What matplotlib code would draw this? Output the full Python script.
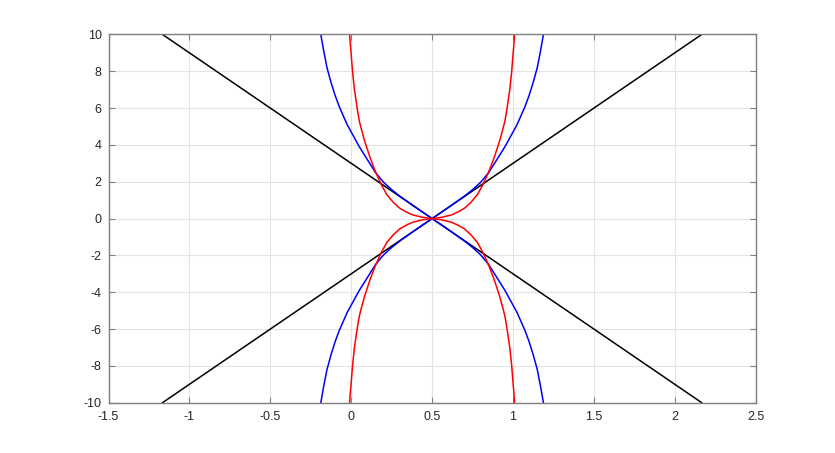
import matplotlib
matplotlib.use("Agg")
import matplotlib.pyplot as plt
import numpy as np

# black lines (end points)
black_x = [-1.1667, 2.1667]
black_y = [10, -10]

# blue curve, upper branch (V shape through 0.5,0)
blue_x = [-0.188, -0.17, -0.15, -0.125, -0.1, -0.075, -0.05, -0.025, 0.0,
          0.025, 0.05, 0.075, 0.1, 0.125, 0.15, 0.2, 0.25, 0.3, 0.4, 0.5,
          0.6, 0.7, 0.75, 0.8, 0.85, 0.875, 0.9, 0.925, 0.95, 0.975, 1.0,
          1.025, 1.05, 1.075, 1.1, 1.125, 1.15, 1.17, 1.188]
blue_y = [10.0, 9.1, 8.2, 7.4, 6.7, 6.1, 5.6, 5.1, 4.7,
          4.3, 3.9, 3.55, 3.2, 2.85, 2.5, 1.97, 1.57, 1.22, 0.6, 0.0,
          0.6, 1.22, 1.57, 1.97, 2.5, 2.85, 3.2, 3.55, 3.9, 4.3, 4.7,
          5.1, 5.6, 6.1, 6.7, 7.4, 8.2, 9.1, 10.0]

# red curve, upper branch
red_x = [-0.01, -0.005, 0.0, 0.008, 0.014, 0.02, 0.03, 0.04, 0.05, 0.06,
         0.08, 0.1, 0.115, 0.13, 0.145, 0.16, 0.175, 0.19, 0.22, 0.26,
         0.3, 0.34, 0.38, 0.44, 0.5, 0.56, 0.62, 0.66, 0.7, 0.74, 0.78,
         0.81, 0.825, 0.84, 0.855, 0.87, 0.885, 0.9, 0.92, 0.94, 0.95,
         0.96, 0.97, 0.98, 0.986, 0.992, 1.0, 1.005, 1.01]
red_y = [10.0, 9.4, 8.9, 8.0, 7.5, 7.0, 6.4, 5.8, 5.3, 4.95,
         4.3, 3.75, 3.35, 3.0, 2.65, 2.35, 2.05, 1.78, 1.3, 0.88,
         0.56, 0.36, 0.2, 0.07, 0.0, 0.07, 0.2, 0.36, 0.56, 0.88, 1.3,
         1.78, 2.05, 2.35, 2.65, 3.0, 3.35, 3.75, 4.3, 4.95, 5.3,
         5.8, 6.4, 7.0, 7.5, 8.0, 8.9, 9.4, 10.0]

xticks = [-1.5, -1, -0.5, 0, 0.5, 1, 1.5, 2, 2.5]
yticks = [-10, -8, -6, -4, -2, 0, 2, 4, 6, 8, 10]

plt.rcParams['font.family'] = ['Liberation Sans', 'DejaVu Sans']
plt.rcParams['axes.unicode_minus'] = False

fig = plt.figure(figsize=(8.35, 4.53), dpi=100)
ax = fig.add_axes([0.13, 0.111, 0.775, 0.813])

ax.plot(black_x, black_y, color='black', lw=1.1)
ax.plot(black_x, [-v for v in black_y], color='black', lw=1.1)
ax.plot(blue_x, blue_y, color='#0000ff', lw=1.1)
ax.plot(blue_x, [-v for v in blue_y], color='#0000ff', lw=1.1)
ax.plot(red_x, red_y, color='#ff0000', lw=1.1)
ax.plot(red_x, [-v for v in red_y], color='#ff0000', lw=1.1)

ax.set_xlim(-1.5, 2.5)
ax.set_ylim(-10, 10)
ax.set_xticks(xticks)
ax.set_yticks(yticks)
ax.set_xticklabels(['%g' % t for t in xticks])
ax.set_yticklabels(['%g' % t for t in yticks])

ax.grid(True, color='#e3e3e3', lw=0.8)
ax.set_axisbelow(True)
for s in ax.spines.values():
    s.set_color('#808080')
    s.set_linewidth(1.0)
ax.tick_params(direction='in', length=4, width=0.8, color='#808080',
               top=True, right=True, labelsize=9, labelcolor='#262626')
ax.tick_params(axis='x', pad=6)
ax.tick_params(axis='y', pad=5)

plt.savefig("out.png", dpi=100)
